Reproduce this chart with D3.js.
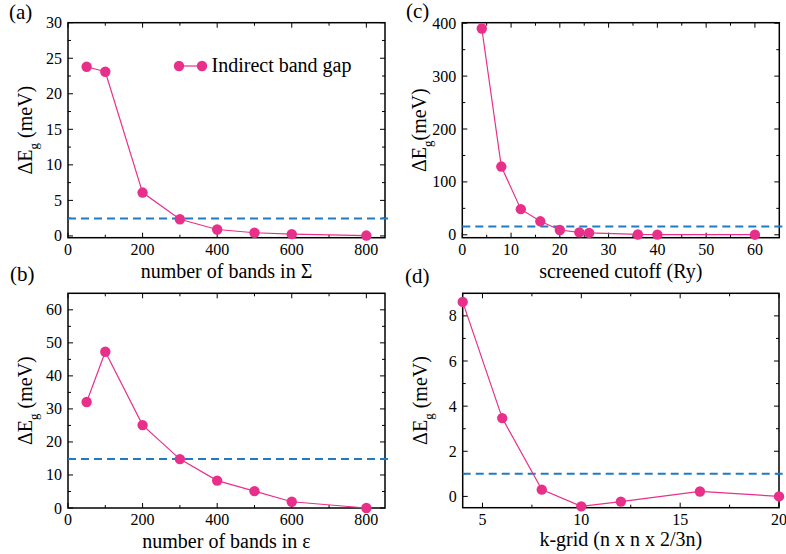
<!DOCTYPE html>
<html>
<head>
<meta charset="utf-8">
<script src="https://cdn.jsdelivr.net/npm/d3@7"></script>
<style>
  body { margin: 0; background: #fff; }
  svg text { font-family: "Times New Roman", Times, Tinos, "Liberation Serif", "DejaVu Serif", "Noto Serif", serif; }
</style>
</head>
<body>
<svg id="fig" width="786" height="554"></svg>
<script>
// convergence data
const bandsSigma = [50, 100, 200, 300, 400, 500, 600, 800]
const gapSigma = [23.8, 23.1, 6.1, 2.35, 0.9, 0.45, 0.25, 0.05]

const bandsEps = [50, 100, 200, 300, 400, 500, 600, 800]
const gapEps = [32.1, 47.3, 25.1, 14.8, 8.3, 5.1, 1.9, 0.0]

const cutoffRy = [4, 8, 12, 16, 20, 24, 26, 36, 40, 60]
const gapCutoff = [390, 129, 48.5, 25.5, 9, 4.5, 3.5, 0.6, 0.3, 0.2]

const kGrid = [4, 6, 8, 10, 12, 16, 20]
const gapKgrid = [8.62, 3.47, 0.30, -0.44, -0.23, 0.22, 0.0]

const thresholds = [2.44, 14.8, 15.5, 1.0]
const panelTags = ["(a)", "(b)", "(c)", "(d)"]
const xTitles = ["number of bands in \u03a3", "number of bands in \u03b5", "screened cutoff (Ry)", "k-grid (n x n x 2/3n)"]
const legendLabel = "Indirect band gap"

const pink = "#e8308a", blue = "#1f7cc4"

var svg = d3.select("#fig")

var panels = [
  {x: bandsSigma, y: gapSigma, thr: thresholds[0], tag: panelTags[0], xt: xTitles[0], space: true,
   box: [68, 385, 22.7, 237.7], xd: [0, 850], yd: [-0.25, 30],
   xMajor: d3.range(0, 801, 200), xMinor: d3.range(100, 850, 200),
   yMajor: d3.range(0, 31, 5), yMinor: d3.range(2.5, 30, 5),
   tagPos: [9, 19], xtY: 278},
  {x: bandsEps, y: gapEps, thr: thresholds[1], tag: panelTags[1], xt: xTitles[1], space: true,
   box: [68, 385, 293.3, 508], xd: [0, 850], yd: [0, 65],
   xMajor: d3.range(0, 801, 200), xMinor: d3.range(100, 850, 200),
   yMajor: d3.range(0, 61, 10), yMinor: d3.range(5, 65, 10),
   tagPos: [10, 281], xtY: 548},
  {x: cutoffRy, y: gapCutoff, thr: thresholds[2], tag: panelTags[2], xt: xTitles[2], space: false,
   box: [462.3, 779.3, 22.7, 237.7], xd: [0, 65], yd: [-5.5, 401],
   xMajor: d3.range(0, 61, 10), xMinor: d3.range(5, 65, 10),
   yMajor: d3.range(0, 401, 100), yMinor: d3.range(50, 400, 100),
   tagPos: [406, 18], xtY: 278},
  {x: kGrid, y: gapKgrid, thr: thresholds[3], tag: panelTags[3], xt: xTitles[3], space: true,
   box: [462.7, 779, 293.3, 507.7], xd: [4, 20], yd: [-0.5, 9],
   xMajor: [5, 10, 15, 20], xMinor: [7.5, 12.5, 17.5],
   yMajor: d3.range(0, 9, 2), yMinor: d3.range(-1, 9, 2).filter(v => v > -0.5),
   tagPos: [405, 283], xtY: 546}
]

panels.forEach(drawPanel)

function drawPanel(p) {
  let [left, right, top, bottom] = p.box
  var x = d3.scaleLinear().domain(p.xd).range([left, right])
  var y = d3.scaleLinear().domain(p.yd).range([bottom, top])
  var g = svg.append("g")

  // tick marks inside on all four sides
  let ticks = g.append("g").attr("stroke", "#000").attr("stroke-width", 1)
  let tx = (vals, len) => vals.forEach(v => {
    ticks.append("line").attr("x1", x(v)).attr("x2", x(v)).attr("y1", bottom).attr("y2", bottom - len)
    ticks.append("line").attr("x1", x(v)).attr("x2", x(v)).attr("y1", top).attr("y2", top + len)
  })
  let ty = (vals, len) => vals.forEach(v => {
    ticks.append("line").attr("y1", y(v)).attr("y2", y(v)).attr("x1", left).attr("x2", left + len)
    ticks.append("line").attr("y1", y(v)).attr("y2", y(v)).attr("x1", right).attr("x2", right - len)
  })
  tx(p.xMajor, 5); tx(p.xMinor, 3)
  ty(p.yMajor, 5); ty(p.yMinor, 3)

  g.append("rect")
    .attr("x", left).attr("y", top)
    .attr("width", right - left).attr("height", bottom - top)
    .attr("fill", "none").attr("stroke", "#000").attr("stroke-width", 1.5)

  // tick labels
  g.append("g").selectAll("text").data(p.xMajor).join("text")
    .attr("x", d => x(d)).attr("y", bottom + 17)
    .attr("text-anchor", "middle").attr("font-size", 16)
    .text(d => d)
  g.append("g").selectAll("text").data(p.yMajor).join("text")
    .attr("x", left - 6).attr("y", d => y(d) + 5.5)
    .attr("text-anchor", "end").attr("font-size", 16)
    .text(d => d)

  // threshold line
  g.append("line")
    .attr("x1", left).attr("x2", right + 5)
    .attr("y1", y(p.thr)).attr("y2", y(p.thr))
    .attr("stroke", blue).attr("stroke-width", 2)
    .attr("stroke-dasharray", "8,5")

  let pts = p.x.map((v, i) => [v, p.y[i]])
  g.append("path")
    .attr("d", d3.line().x(d => x(d[0])).y(d => y(d[1]))(pts))
    .attr("fill", "none").attr("stroke", pink).attr("stroke-width", 1.2)
  g.append("g").selectAll("circle").data(pts).join("circle")
    .attr("cx", d => x(d[0])).attr("cy", d => y(d[1])).attr("r", 5.2)
    .attr("fill", pink)

  // axis titles
  g.append("text")
    .attr("x", (left + right) / 2).attr("y", p.xtY)
    .attr("text-anchor", "middle").attr("font-size", 20)
    .text(p.xt)

  let yt = g.append("text")
    .attr("transform", `translate(${left - 36},${(top + bottom) / 2}) rotate(-90)`)
    .attr("text-anchor", "middle").attr("font-size", 20)
  yt.append("tspan").text("\u0394E")
  yt.append("tspan").attr("font-size", 13).attr("dy", 6).text("g")
  yt.append("tspan").attr("dy", -6).text(p.space ? " (meV)" : "(meV)")

  g.append("text")
    .attr("x", p.tagPos[0]).attr("y", p.tagPos[1])
    .attr("font-size", 21)
    .text(p.tag)
}

// legend in panel (a)
var leg = svg.append("g")
leg.append("line").attr("x1", 179).attr("x2", 202).attr("y1", 66).attr("y2", 66)
  .attr("stroke", pink).attr("stroke-width", 1.2)
leg.selectAll("circle").data([179, 202]).join("circle")
  .attr("cx", d => d).attr("cy", 66).attr("r", 5.2).attr("fill", pink)
leg.append("text").attr("x", 211.5).attr("y", 72).attr("font-size", 20).text(legendLabel)
</script>
</body>
</html>
